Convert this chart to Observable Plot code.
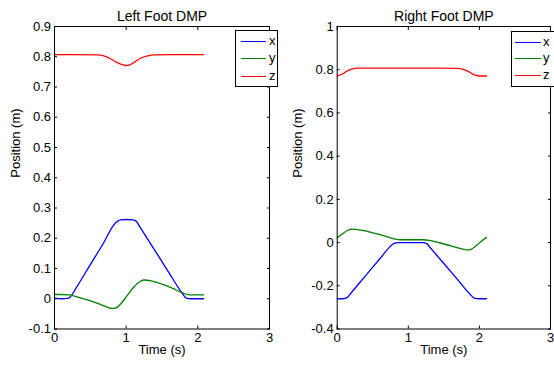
<!DOCTYPE html>
<html>
<head>
<meta charset="utf-8">
<script src="https://cdn.jsdelivr.net/npm/d3@7"></script>
<script src="https://cdn.jsdelivr.net/npm/@observablehq/plot@0.6"></script>
<style>
  html, body { margin: 0; padding: 0; background: #fff; overflow: hidden; }
  #wrap { position: relative; width: 554px; height: 368px; overflow: hidden; font-family: "Liberation Sans", Arial, sans-serif; }
  .panel { position: absolute; top: 0; }
  .legend { position: absolute; border: 1px solid #000; background: #fff; box-sizing: border-box; font-size: 13px; color: #000; }
  .legend .row { position: absolute; height: 0; }
  .legend .sw { position: absolute; height: 0; border-top: 1.3px solid; }
  .legend .lb { position: absolute; line-height: 13px; top: -7px; }
</style>
</head>
<body>
<div id="wrap"></div>
<script>
// ---- data ----
const seriesNames = ["x", "y", "z"];
const seriesColors = ["#0000ff", "#008000", "#ff0000"];
const xTicks = [0, 1, 2, 3];
const leftYTicks = [-0.1, 0, 0.1, 0.2, 0.3, 0.4, 0.5, 0.6, 0.7, 0.8, 0.9];
const rightYTicks = [-0.4, -0.2, 0, 0.2, 0.4, 0.6, 0.8, 1];

// Left foot
const leftXt = [0, 0.1, 0.18, 0.22, 0.3, 0.5, 0.7, 0.82, 0.88, 0.92, 1.0, 1.1, 1.14, 1.2, 1.4, 1.6, 1.78, 1.84, 1.9, 2.08];
const leftXv = [0.002, 0.0, 0.001, 0.006, 0.035, 0.113, 0.191, 0.242, 0.256, 0.261, 0.262, 0.261, 0.256, 0.234, 0.16, 0.085, 0.019, 0.002, 0.0, 0.0];
const leftYt = [0, 0.1, 0.2, 0.3, 0.45, 0.6, 0.72, 0.8, 0.86, 0.92, 1.0, 1.1, 1.2, 1.25, 1.35, 1.5, 1.65, 1.8, 1.88, 2.08];
const leftYv = [0.014, 0.014, 0.013, 0.007, -0.003, -0.015, -0.026, -0.032, -0.03, -0.018, 0.006, 0.037, 0.058, 0.062, 0.059, 0.048, 0.034, 0.018, 0.013, 0.013];
const leftZt = [0, 0.3, 0.6, 0.7, 0.8, 0.9, 0.97, 1.0, 1.05, 1.12, 1.2, 1.3, 1.4, 1.6, 1.8, 2.08];
const leftZv = [0.807, 0.807, 0.806, 0.802, 0.791, 0.778, 0.772, 0.771, 0.773, 0.783, 0.795, 0.803, 0.806, 0.807, 0.807, 0.807];

// Right foot
const rightXt = [0, 0.08, 0.14, 0.2, 0.4, 0.6, 0.74, 0.8, 0.86, 1.0, 1.2, 1.26, 1.32, 1.5, 1.7, 1.86, 1.93, 2.0, 2.1];
const rightXv = [-0.26, -0.26, -0.255, -0.231, -0.153, -0.075, -0.02, -0.004, 0, 0, 0, -0.005, -0.028, -0.097, -0.174, -0.236, -0.257, -0.26, -0.26];
const rightYt = [0, 0.08, 0.15, 0.22, 0.35, 0.5, 0.65, 0.8, 0.9, 1.0, 1.2, 1.3, 1.45, 1.6, 1.75, 1.82, 1.88, 1.95, 2.02, 2.1];
const rightYv = [0.022, 0.042, 0.057, 0.062, 0.056, 0.045, 0.032, 0.017, 0.013, 0.013, 0.013, 0.01, -0.002, -0.015, -0.029, -0.034, -0.031, -0.016, 0.004, 0.024];
const rightZt = [0, 0.06, 0.12, 0.18, 0.25, 0.3, 0.6, 1.0, 1.4, 1.7, 1.76, 1.82, 1.88, 1.94, 2.0, 2.1];
const rightZv = [0.772, 0.778, 0.79, 0.8, 0.806, 0.807, 0.807, 0.807, 0.807, 0.806, 0.803, 0.796, 0.785, 0.775, 0.771, 0.771];

function rows(ts, vs, s) { return ts.map((t, i) => ({t, v: vs[i], s})); }

function panel({title, yTicks, yDomain, data, width, marginLeft, marginRight}) {
  const lines = seriesNames.map((s, i) =>
    Plot.line(data.filter(d => d.s === s), {x: "t", y: "v", stroke: seriesColors[i], strokeWidth: 1.3, curve: "monotone-x"}));
  return Plot.plot({
    width, height: 368,
    marginLeft, marginRight, marginTop: 26, marginBottom: 39.5,
    style: {fontFamily: "'Liberation Sans', Arial, sans-serif", fontSize: "13px", color: "#000", background: "#fff"},
    x: {domain: [0, 3]},
    y: {domain: yDomain},
    marks: [
      ...lines,
      Plot.frame({stroke: "#000", strokeWidth: 1}),
      Plot.axisX({anchor: "bottom", ticks: xTicks, tickSize: 0, tickPadding: 4, tickFormat: d => String(d), label: null}),
      Plot.axisX({anchor: "bottom", ticks: xTicks, tickSize: -3, tickFormat: () => "", label: null}),
      Plot.axisX({anchor: "top", ticks: xTicks, tickSize: -3, tickFormat: () => "", label: null}),
      Plot.axisY({anchor: "left", ticks: yTicks, tickSize: 0, tickPadding: 3.5, tickFormat: d => String(+d.toFixed(2)), label: null}),
      Plot.axisY({anchor: "left", ticks: yTicks, tickSize: -3, tickFormat: () => "", label: null}),
      Plot.axisY({anchor: "right", ticks: yTicks, tickSize: -3, tickFormat: () => "", label: null}),
      Plot.text([title], {text: d => d, frameAnchor: "top", dy: -15, fontSize: 14, fill: "#000"}),
      Plot.text(["Time (s)"], {text: d => d, frameAnchor: "bottom", dy: 25, fontSize: 13, fill: "#000"}),
      Plot.text(["Position (m)"], {text: d => d, frameAnchor: "left", dx: -39, rotate: -90, fontSize: 13, fill: "#000"})
    ]
  });
}

const wrap = document.getElementById("wrap");

const left = panel({
  title: "Left Foot DMP", yTicks: leftYTicks, yDomain: [-0.1, 0.9],
  data: [...rows(leftXt, leftXv, "x"), ...rows(leftYt, leftYv, "y"), ...rows(leftZt, leftZv, "z")],
  width: 280, marginLeft: 54, marginRight: 11
});
left.classList.add("panel"); left.style.left = "0px";
wrap.appendChild(left);

const right = panel({
  title: "Right Foot DMP", yTicks: rightYTicks, yDomain: [-0.4, 1],
  data: [...rows(rightXt, rightXv, "x"), ...rows(rightYt, rightYv, "y"), ...rows(rightZt, rightZv, "z")],
  width: 274, marginLeft: 56.7, marginRight: 4
});
right.classList.add("panel"); right.style.left = "280px";
wrap.appendChild(right);

function legend({left, top, width, height, lineX0, lineX1, labelX, rowYs}) {
  const box = document.createElement("div");
  box.className = "legend";
  Object.assign(box.style, {left: left + "px", top: top + "px", width: width + "px", height: height + "px"});
  seriesNames.forEach((s, i) => {
    const sw = document.createElement("div");
    sw.className = "sw";
    Object.assign(sw.style, {left: (lineX0 - left) + "px", width: (lineX1 - lineX0) + "px", top: (rowYs[i] - top - 1) + "px", borderTopColor: seriesColors[i]});
    box.appendChild(sw);
    const lb = document.createElement("div");
    lb.className = "lb";
    lb.textContent = s;
    Object.assign(lb.style, {left: (labelX - left) + "px", top: (rowYs[i] - top - 8) + "px"});
    box.appendChild(lb);
  });
  wrap.appendChild(box);
}

legend({left: 234.5, top: 30, width: 43, height: 57, lineX0: 240, lineX1: 265, labelX: 268, rowYs: [40.7, 58.3, 75.7]});
legend({left: 511, top: 30.5, width: 50, height: 56.5, lineX0: 513.5, lineX1: 539.5, labelX: 542, rowYs: [41.5, 58.3, 75]});
</script>
</body>
</html>
